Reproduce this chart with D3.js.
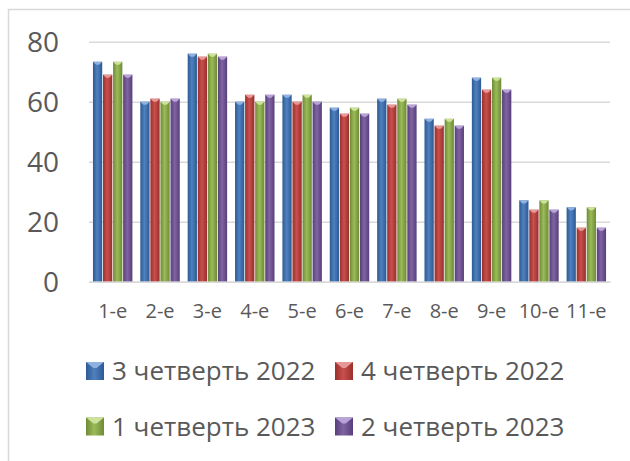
<!DOCTYPE html>
<html>
    <head>
        <meta charset="UTF-8">
        <title>Четверти</title>
        <script src="https://cdn.jsdelivr.net/npm/d3@7"></script>
        <style>
            body { margin: 0; background: #fff; }
            .axis text, .legend text {
                fill: #595959;
                font-family: "Open Sans", "Noto Sans", sans-serif;
            }
        </style>
    </head>
    <body>
        <svg id="svg"></svg>

        <script>
            var WIDTH = 630;
            var HEIGHT = 461;

            // Data
            var categories = ["1-е", "2-е", "3-е", "4-е", "5-е", "6-е", "7-е", "8-е", "9-е", "10-е", "11-е"];
            var seriesNames = ["3 четверть 2022", "4 четверть 2022", "1 четверть 2023", "2 четверть 2023"];
            var q3_2022 = [73.3, 60, 76, 60, 62.3, 58, 61, 54.3, 68, 27.1, 24.8];
            var q4_2022 = [69, 61, 75, 62.3, 60, 56, 59, 52, 64, 24, 18];
            var q1_2023 = [73.3, 60, 76, 60, 62.3, 58, 61, 54.3, 68, 27.1, 24.8];
            var q2_2023 = [69, 61, 75, 62.3, 60, 56, 59, 52, 64, 24, 18];
            var yTicks = [0, 20, 40, 60, 80];

            var allSeries = [q3_2022, q4_2022, q1_2023, q2_2023];
            var colors = [
                {dark: "#2c5a97", mid: "#4f81bd", light: "#8fb2e0"},
                {dark: "#9a2f2c", mid: "#c8504d", light: "#e79896"},
                {dark: "#6e8b35", mid: "#9bbb59", light: "#cde39c"},
                {dark: "#573f7c", mid: "#8064a2", light: "#b9a2d8"}
            ];

            var svg = d3.select('#svg')
                        .attr("width", WIDTH)
                        .attr("height", HEIGHT);

            // gradients for the bevelled bars
            var defs = svg.append('defs');
            colors.forEach(function(c, i){
                var g = defs.append('linearGradient')
                            .attr('id', 'grad' + i)
                            .attr('x1', 0).attr('x2', 1).attr('y1', 0).attr('y2', 0);
                g.append('stop').attr('offset', '0%').attr('stop-color', c.dark);
                g.append('stop').attr('offset', '45%').attr('stop-color', c.mid);
                g.append('stop').attr('offset', '100%').attr('stop-color', c.dark);
            });

            // chart frame
            svg.append('path')
               .attr('d', 'M8.5,' + HEIGHT + 'V9.5H' + WIDTH)
               .attr('fill', 'none')
               .attr('stroke', '#d9d9d9')
               .attr('stroke-width', 1.5);

            var yScale = d3.scaleLinear()
                           .domain([0, 80])
                           .range([281.7, 41.7]);
            var xScale = d3.scaleBand()
                           .domain(categories)
                           .range([89, 610])
                           .paddingInner(0.15)
                           .paddingOuter(0.075);
            var xInner = d3.scaleBand()
                           .domain(d3.range(allSeries.length))
                           .range([0, xScale.bandwidth()]);

            // gridlines
            var yAxis = d3.axisLeft(yScale)
                          .tickValues(yTicks)
                          .tickSize(-(610 - 89))
                          .tickPadding(30);
            var gy = svg.append('g')
               .attr('class', 'axis')
               .attr('transform', 'translate(89,0)')
               .call(yAxis);
            gy.select('.domain').remove();
            gy.selectAll('line').attr('stroke', '#d9d9d9').attr('stroke-width', 1.5);
            gy.selectAll('text')
              .attr('x', 59 - 89)
              .attr('font-size', 28)
              .attr('dy', '0.35em');

            // bars
            var groups = svg.selectAll('g.grp')
               .data(categories)
               .enter()
               .append('g')
               .attr('class', 'grp')
               .attr('transform', function(d){ return 'translate(' + xScale(d) + ',0)'; });

            groups.selectAll('rect')
               .data(function(d, i){
                   return allSeries.map(function(s, k){ return {k: k, v: s[i]}; });
               })
               .enter()
               .append('rect')
               .attr('x', function(d){ return xInner(d.k) + 0.4; })
               .attr('width', xInner.bandwidth() - 0.8)
               .attr('y', function(d){ return yScale(d.v); })
               .attr('height', function(d){ return yScale(0) - yScale(d.v); })
               .attr('fill', function(d){ return 'url(#grad' + d.k + ')'; });

            // bevel cap
            groups.selectAll('path.cap')
               .data(function(d, i){
                   return allSeries.map(function(s, k){ return {k: k, v: s[i]}; });
               })
               .enter()
               .append('path')
               .attr('class', 'cap')
               .attr('d', function(d){
                   var x0 = xInner(d.k) + 0.4, w = xInner.bandwidth() - 0.8, y0 = yScale(d.v);
                   return 'M' + x0 + ',' + y0 + 'h' + w + 'l-' + (w / 2 - 1.5) + ',3h-3z';
               })
               .attr('fill', function(d){ return colors[d.k].light; });

            // x axis labels
            var xAxis = d3.axisBottom(xScale).tickSize(0).tickPadding(22);
            var gx = svg.append('g')
               .attr('class', 'axis')
               .attr('transform', 'translate(0,' + yScale(0) + ')')
               .call(xAxis);
            gx.select('.domain').attr('stroke', '#d9d9d9').attr('stroke-width', 1.5);
            gx.selectAll('text').attr('font-size', 20);

            // legend
            var legendPos = [[86, 371], [335, 371], [86, 426.5], [335, 426.5]];
            var legend = svg.selectAll('g.legend')
               .data(seriesNames)
               .enter()
               .append('g')
               .attr('class', 'legend')
               .attr('transform', function(d, i){ return 'translate(' + legendPos[i][0] + ',' + legendPos[i][1] + ')'; });
            legend.append('rect')
               .attr('x', 0).attr('y', -9)
               .attr('width', 18).attr('height', 18)
               .attr('fill', function(d, i){ return 'url(#grad' + i + ')'; });
            legend.append('path')
               .attr('d', 'M0,-9h18l-7.5,6h-3z')
               .attr('fill', function(d, i){ return colors[i].light; });
            legend.append('text')
               .attr('x', 26)
               .attr('dy', '0.35em')
               .attr('font-size', 26)
               .text(function(d){ return d; });
        </script>
    </body>
</html>
